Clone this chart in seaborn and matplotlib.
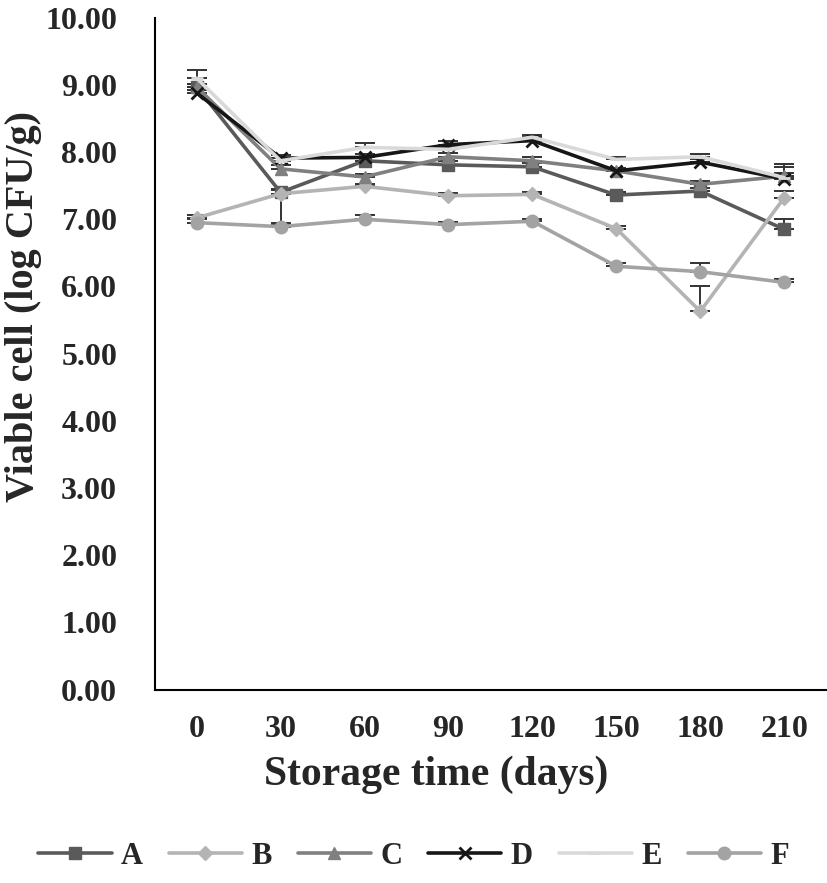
import matplotlib

matplotlib.use("Agg")

import matplotlib.pyplot as plt  # noqa: E402
import numpy as np  # noqa: E402
import pandas as pd  # noqa: E402
import seaborn as sns  # noqa: E402

# Dados
days = [0, 30, 60, 90, 120, 150, 180, 210]
samples = ["A", "B", "C", "D", "E", "F"]

val_A = [8.97, 7.40, 7.87, 7.81, 7.78, 7.36, 7.42, 6.85]
val_B = [7.02, 7.38, 7.49, 7.35, 7.37, 6.86, 5.63, 7.32]
val_C = [8.97, 7.75, 7.63, 7.93, 7.87, 7.72, 7.52, 7.64]
val_D = [8.88, 7.91, 7.92, 8.11, 8.17, 7.72, 7.85, 7.60]
val_E = [9.10, 7.87, 8.07, 8.04, 8.22, 7.89, 7.93, 7.62]
val_F = [6.95, 6.89, 7.00, 6.92, 6.97, 6.30, 6.22, 6.06]

# desvio (barra para cima / para baixo)
err_up_A = [0.05, 0.05, 0.05, 0.05, 0.05, 0.05, 0.05, 0.15]
err_dn_A = [0.00, 0.45, 0.00, 0.00, 0.00, 0.00, 0.00, 0.00]
err_up_B = [0.04, 0.05, 0.04, 0.04, 0.04, 0.04, 0.38, 0.10]
err_up_C = [0.05, 0.05, 0.05, 0.05, 0.05, 0.05, 0.05, 0.05]
err_up_D = [0.05, 0.05, 0.05, 0.05, 0.05, 0.05, 0.05, 0.22]
err_up_E = [0.12, 0.04, 0.06, 0.04, 0.04, 0.04, 0.04, 0.16]
err_up_F = [0.05, 0.04, 0.07, 0.04, 0.04, 0.05, 0.13, 0.05]

values = {"A": val_A, "B": val_B, "C": val_C, "D": val_D, "E": val_E, "F": val_F}
err_up = {"A": err_up_A, "B": err_up_B, "C": err_up_C, "D": err_up_D,
          "E": err_up_E, "F": err_up_F}
err_dn = {"A": err_dn_A}

palette = {"A": "#5a5a5a", "B": "#b4b4b4", "C": "#808080",
           "D": "#161616", "E": "#d9d9d9", "F": "#a3a3a3"}
markers = {"A": "s", "B": "D", "C": "^", "D": "x", "E": "_", "F": "o"}
msizes = {"A": 9, "B": 7, "C": 9, "D": 9, "E": 8, "F": 9}

sns.set_style("white")
plt.rcParams["font.family"] = ["Liberation Serif", "DejaVu Serif"]
plt.rcParams["font.weight"] = "bold"

rows = []
for s in samples:
    for i, v in enumerate(values[s]):
        rows.append({"pos": i, "value": v, "sample": s})
df = pd.DataFrame(rows)

fig = plt.figure(figsize=(8.27, 8.83), dpi=100)
ax = fig.add_axes([0.187, 0.219, 0.812, 0.761])

for s in samples:
    sub = df[df["sample"] == s]
    up = np.asarray(err_up[s])
    dn = np.asarray(err_dn.get(s, np.zeros(len(days))))
    ax.errorbar(sub["pos"], sub["value"], yerr=[dn, up], fmt="none",
                ecolor="#333333", elinewidth=1.4, capsize=7, capthick=1.4,
                zorder=1)
    sns.lineplot(data=sub, x="pos", y="value", color=palette[s],
                 marker=markers[s], markersize=msizes[s],
                 markeredgecolor=palette[s], markeredgewidth=2 if s in "DE" else 1,
                 linewidth=2.6, label=s, ax=ax, legend=False, zorder=2)

ax.set_xlim(-0.5, len(days) - 0.5)
ax.set_ylim(0, 10)
ax.set_yticks(np.arange(0, 11, 1))
ax.set_yticklabels([f"{t:.2f}" for t in np.arange(0, 11, 1)])
ax.set_xticks(np.arange(len(days)))
ax.set_xticklabels([str(d) for d in days])
ax.set_xticks(np.arange(-0.5, len(days), 1), minor=True)
ax.tick_params(axis="x", which="major", length=0, labelsize=23, pad=18)
ax.tick_params(axis="x", which="minor", length=7, width=1.5, direction="out")
ax.tick_params(axis="y", length=7, width=1.5, direction="out", labelsize=23, pad=20)
ax.set_xlabel("Storage time (days)", fontsize=30, fontweight="bold")
ax.xaxis.set_label_coords(0.419, -0.098)
ax.set_ylabel("Viable cell (log CFU/g)", fontsize=29, fontweight="bold")
ax.yaxis.set_label_coords(-0.168, 0.57)

sns.despine(ax=ax)
for side in ("left", "bottom"):
    ax.spines[side].set_linewidth(1.5)
    ax.spines[side].set_color("black")

handles, labels = ax.get_legend_handles_labels()
fig.legend(handles, labels, loc="center", bbox_to_anchor=(0.5, 0.03),
           ncol=6, frameon=False, fontsize=22, handlelength=2.4,
           columnspacing=0.85, handletextpad=0.3)

fig.savefig("out.png", dpi=100)
plt.close(fig)
